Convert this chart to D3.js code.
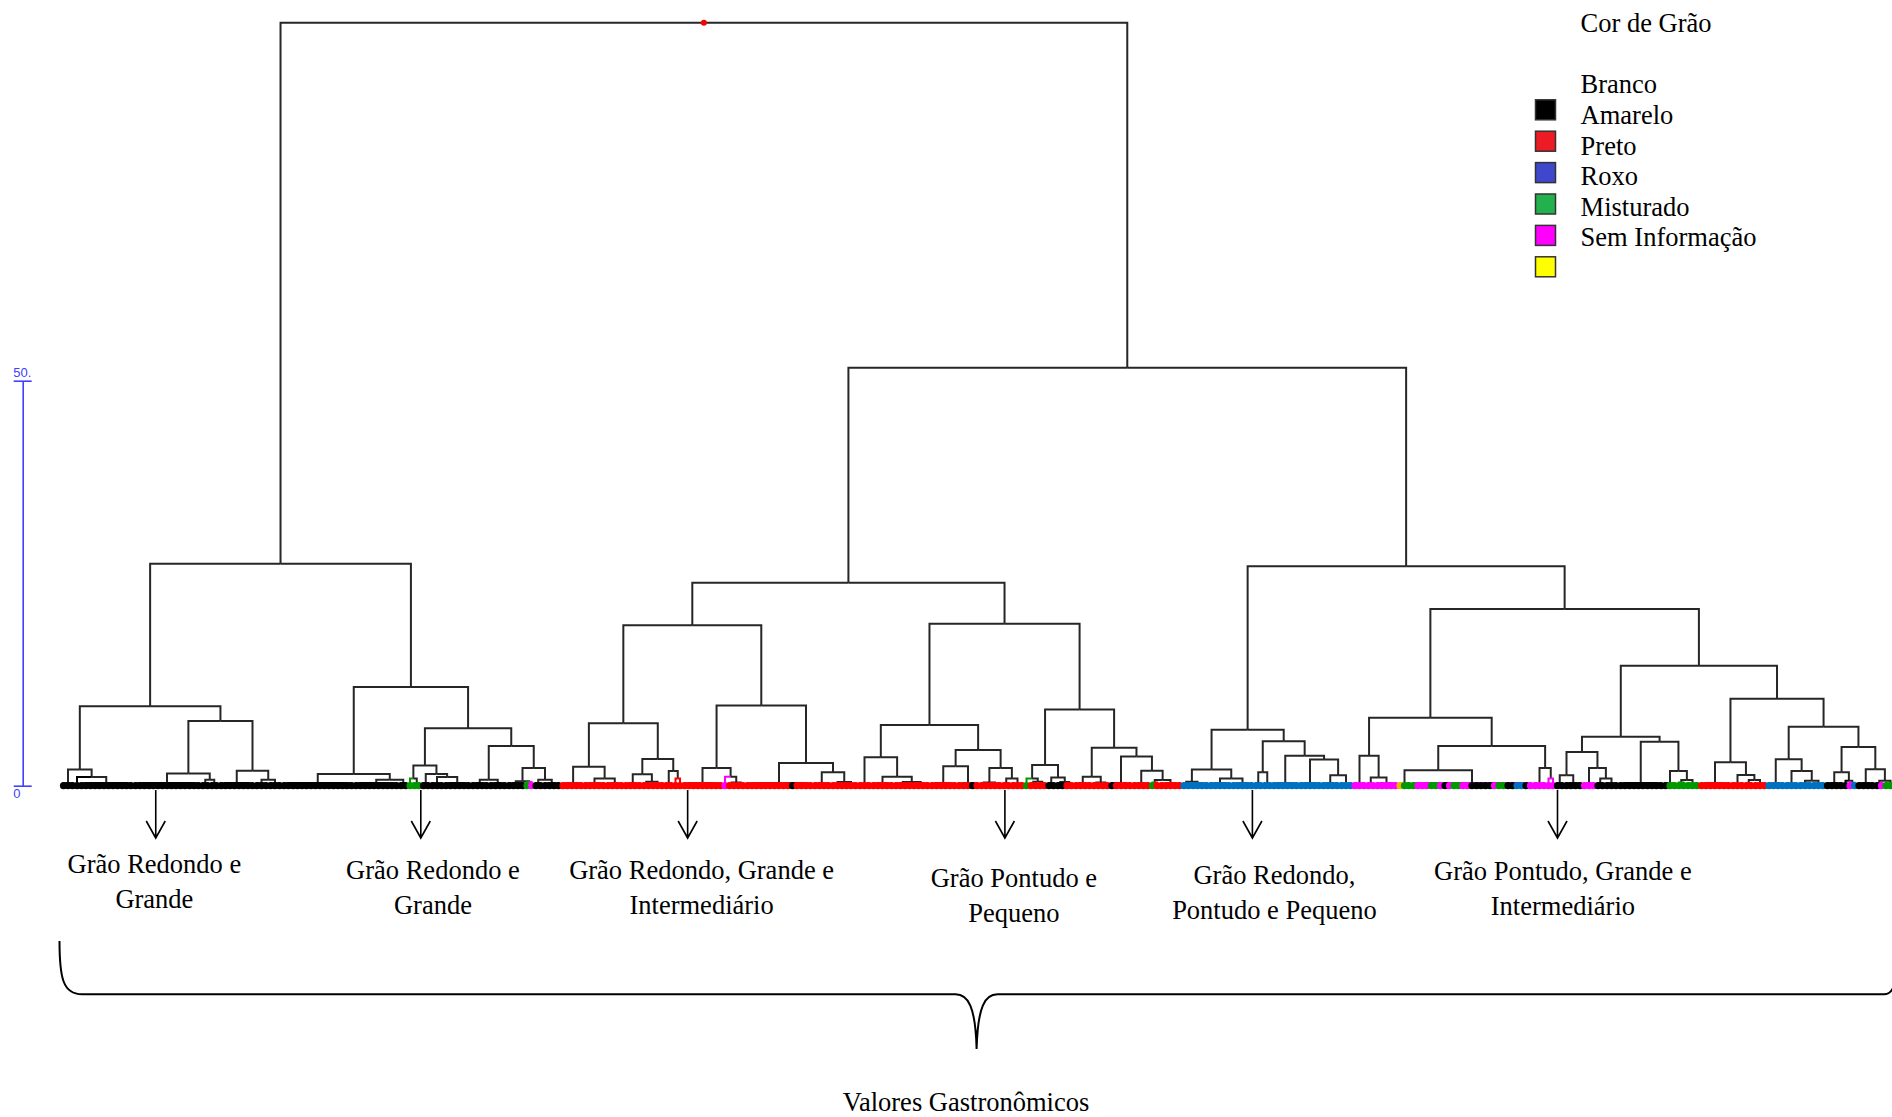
<!DOCTYPE html>
<html>
<head>
<meta charset="utf-8">
<script src="https://cdn.jsdelivr.net/npm/d3@7"></script>
<style>
  body { margin: 0; background: #fff; }
  svg { display: block; }
  text { font-family: "Liberation Serif", "Times New Roman", serif; }
</style>
</head>
<body>
<svg id="chart" width="1892" height="1117"></svg>
<script>
// Dendrogram. A node is [height, left, right];
// a string is a run of leaves given by colour code and count ("r10k1r4").
const clusterA1 = [9.8,
  [2.0, "k3", [1.07, "k1", "k12"]],
  [8.0, [1.5, "k15", [0.74, "k2", "k2"]], [1.85, "k8", [0.74, "k3", "k3"]]]];
const clusterA2 = [12.2,
  [1.44, "k16", [0.74, "k10", "k2"]],
  [7.1,
    [2.5, [0.9, "g1", [0.3, "g1", "g1"]], [1.44, "k2", [1.07, "k3", "k6"]]],
    [4.9, [0.74, "k4", "k4"], [2.2, [0.55, "k4", [0.45, "g1", "m1"]], [0.74, "k2", "k4"]]]]];
const clusterB1 = [19.8,
  [7.7,
    [2.35, [0.3, "r3", "r2"], [0.9, "r5", "r4"]],
    [3.3, [1.4, "r4", [0.5, "r2", "r3"]], [1.8, "r2", [0.9, "r1", "r1"]]]],
  [9.9,
    [2.2, "r9", [1.1, "m1", [0.4, "r2", "r2"]]],
    [2.8, "r10k1r4", [1.65, "r4", [0.45, "r3", "r3"]]]]];
const clusterB2 = [20.0,
  [7.5,
    [3.5, "r3", [1.1, "r5", [0.45, "r4", "r4"]]],
    [4.4, [2.4, "r6", "r3k1r1"], [2.2, [0.4, "r2", "r3"], [0.9, "r2", "r3"]]]],
  [9.4,
    [2.55, [0.9, "g1", [0.5, "r2", "r2"]], [1.0, "k2", [0.45, "k2", "r2"]]],
    [4.7, [1.1, "r4", [0.4, "r2", "r2"]],
      [3.6, "k1r4", [1.85, "r4", [0.7, [0.4, "g1", "r1"], "r5"]]]]]];
const clusterR2a = [6.9,
  [2.0, [0.5, "b2", [0.3, "b1", "b3"]], [0.9, "b5", "b5"]],
  [5.5, [1.65, "b2", "b2"], [3.7, "b6", [3.25, "b5", [1.3, "b4", "b3"]]]]];
const clusterR2bL = [8.4,
  [3.7, "m3", [1.0, "m2", "m5"]],
  [4.9, [1.9, "y1g2", "g1m3g2m1k1m1g2m2k5m1g2k2b2k1m1"], [2.2, "m3", [0.9, "m1", "m1"]]]];
const clusterR2bV = [6.05,
  [4.16, [1.3, "k2", "k4"], [2.2, "m3", [0.9, "k2", "k3"]]],
  [5.43, "k10", [1.8, "k1g2", [0.7, [0.4, "g1", "g1"], "g3"]]]];
const clusterR2bW = [10.74,
  [2.89, "r7", [1.32, "r3", [0.7, "r2", "r3"]]],
  [7.28,
    [3.26, "b4", [1.81, "b3", [0.6, "b3", "b3"]]],
    [4.78, [1.65, "k4", [0.6, "k1", [0.35, "m1", "b1"]]], [2.02, "k4", [0.6, "k1m1", "g3"]]]]];

// Upper merges
const tree = [94.2,
  [27.4, clusterA1, clusterA2],
  [51.6,
    [25.05, clusterB1, clusterB2],
    [27.1, clusterR2a, [21.8, clusterR2bL, [14.8, clusterR2bV, clusterR2bW]]]]];

const leafColors = {k: "#000000", r: "#ff0000", b: "#0070c0", m: "#ff00ff", g: "#009a00", y: "#f2b400"};

const axisTicks = [0, 50];
const axisTickLabels = ["0", "50."];

const legendTitle = "Cor de Grão";
const legendLabels = ["Branco", "Amarelo", "Preto", "Roxo", "Misturado", "Sem Informação"];
const legendSwatches = ["#000000", "#ed1c24", "#3f48cc", "#22b14c", "#ff00ff", "#ffff00"];

const noteLines = [
  ["Grão Redondo e", "Grande"],
  ["Grão Redondo e", "Grande"],
  ["Grão Redondo, Grande e", "Intermediário"],
  ["Grão Pontudo e", "Pequeno"],
  ["Grão Redondo,", "Pontudo e Pequeno"],
  ["Grão Pontudo, Grande e", "Intermediário"]
];
// where the arrows and labels sit, in leaf index units
const noteArrowLeaf = [20.5, 79.4, 138.7, 209.2, 264.2, 332.0];
const noteLabelLeaf = [20.2, 82.1, 141.8, 211.2, 269.1, 333.2];
const footTitle = "Valores Gastronômicos";

// ---- layout ----
const width = 1892;
const height = 1117;
const lineColor = "#262626";
const axisColor = "#4040ff";
const groupHeight = 0.3;   // merges inside a leaf run sit under the leaf band
const noteBaseline = [873, 879, 879, 887, 884, 880];

const svg = d3.select("#chart");

// Turn nested arrays into a hierarchy
const parseRun = s => {
  const out = [];
  s.replace(/([a-z])(\d+)/g, (m, c, n) => { for (let i = 0; i < +n; i++) out.push(c); });
  return out;
};
const toNode = n => {
  if (typeof n === "string") {
    const cols = parseRun(n);
    if (cols.length === 1) return {c: cols[0]};
    return {h: groupHeight, children: cols.map(c => ({c}))};
  }
  return {h: n[0], children: [toNode(n[1]), toNode(n[2])]};
};
const root = d3.hierarchy(toNode(tree));
const leaves = root.leaves();

const x = d3.scaleLinear().domain([0, leaves.length - 1]).range([63.5, 1895]);
const y = d3.scaleLinear().domain([0, 50]).range([785.7, 380.7]);

// Leaves evenly spaced, each merge at the mean of its two children
leaves.forEach((d, i) => { d.px = x(i); d.py = y(0); });
root.eachAfter(d => {
  if (d.children) {
    d.px = d3.mean(d.children, c => c.px);
    d.py = y(d.data.h);
  }
});

// Branches
svg.append("g")
  .classed("branches", true)
  .selectAll("path")
  .data(root.links())
  .join("path")
  .attr("d", l => `M${l.target.px},${l.target.py}V${l.source.py}H${l.source.px}`)
  .attr("fill", "none")
  .attr("stroke", l => l.target.children ? lineColor : leafColors[l.target.data.c])
  .attr("stroke-width", 2);

// Leaf band
svg.append("g")
  .classed("leaves", true)
  .selectAll("circle")
  .data(leaves)
  .join("circle")
  .attr("cx", d => d.px)
  .attr("cy", d => d.py)
  .attr("r", 3.6)
  .attr("fill", d => leafColors[d.data.c]);

// Red dot on the top merge
svg.append("circle")
  .attr("cx", root.px)
  .attr("cy", root.py)
  .attr("r", 3)
  .attr("fill", "#ff0000");

// Height axis
const axisG = svg.append("g")
  .attr("transform", "translate(22.7,0)")
  .call(d3.axisLeft(y).tickValues(axisTicks).tickSize(9).tickSizeOuter(0)
    .tickFormat((d, i) => axisTickLabels[i]));
axisG.select(".domain").attr("stroke", axisColor).attr("stroke-width", 1.6);
axisG.selectAll(".tick line").attr("x1", -9).attr("x2", 9)
  .attr("stroke", axisColor).attr("stroke-width", 1.6);
axisG.selectAll(".tick text")
  .attr("x", -9.4)
  .attr("dy", d => d === 0 ? 12.3 : -4.2)
  .attr("text-anchor", "start")
  .attr("fill", axisColor)
  .style("font-family", "'Liberation Sans', Arial, sans-serif")
  .style("font-size", "13px");

// Legend
const legend = svg.append("g").classed("legend", true);
legend.append("text")
  .text(legendTitle)
  .attr("x", 1580.6)
  .attr("y", 31.7)
  .style("font-size", "26.5px");
legend.selectAll("text.label")
  .data(legendLabels)
  .join("text")
  .classed("label", true)
  .text(d => d)
  .attr("x", 1580.6)
  .attr("y", (d, i) => 93.3 + i * 30.6)
  .style("font-size", "26.5px");
legend.selectAll("rect")
  .data(legendSwatches)
  .join("rect")
  .attr("x", 1535.5)
  .attr("y", (d, i) => 99.8 + i * 31.4)
  .attr("width", 20)
  .attr("height", 20)
  .attr("fill", d => d)
  .attr("stroke", "#333")
  .attr("stroke-width", 1.5);

// Cluster notes with arrows
const notes = svg.append("g")
  .classed("notes", true)
  .selectAll("g")
  .data(noteLines)
  .join("g");
notes.append("path")
  .attr("d", (d, i) => {
    const ax = x(noteArrowLeaf[i]);
    return `M${ax},790V838M${ax - 9.5},821L${ax},838L${ax + 9.5},821`;
  })
  .attr("fill", "none")
  .attr("stroke", "#000")
  .attr("stroke-width", 1.6);
notes.each(function(d, i) {
  d3.select(this).selectAll("text")
    .data(d)
    .join("text")
    .text(t => t)
    .attr("x", x(noteLabelLeaf[i]))
    .attr("y", (t, j) => noteBaseline[i] + j * 35)
    .attr("text-anchor", "middle")
    .style("font-size", "26.5px");
});

// Brace under everything
svg.append("path")
  .attr("d", "M59.5,941 C59.5,978 63,994.3 82,994.3 L955.5,994.3 " +
    "C968,994.3 975.5,1006 976.6,1049 C977.8,1006 985,994.3 997.5,994.3 " +
    "L1884,994.3 C1888.5,994.3 1891,992.5 1893,988")
  .attr("fill", "none")
  .attr("stroke", "#000")
  .attr("stroke-width", 2);

svg.append("text")
  .text(footTitle)
  .attr("x", 966)
  .attr("y", 1111)
  .attr("text-anchor", "middle")
  .style("font-size", "26.5px");
</script>
</body>
</html>
